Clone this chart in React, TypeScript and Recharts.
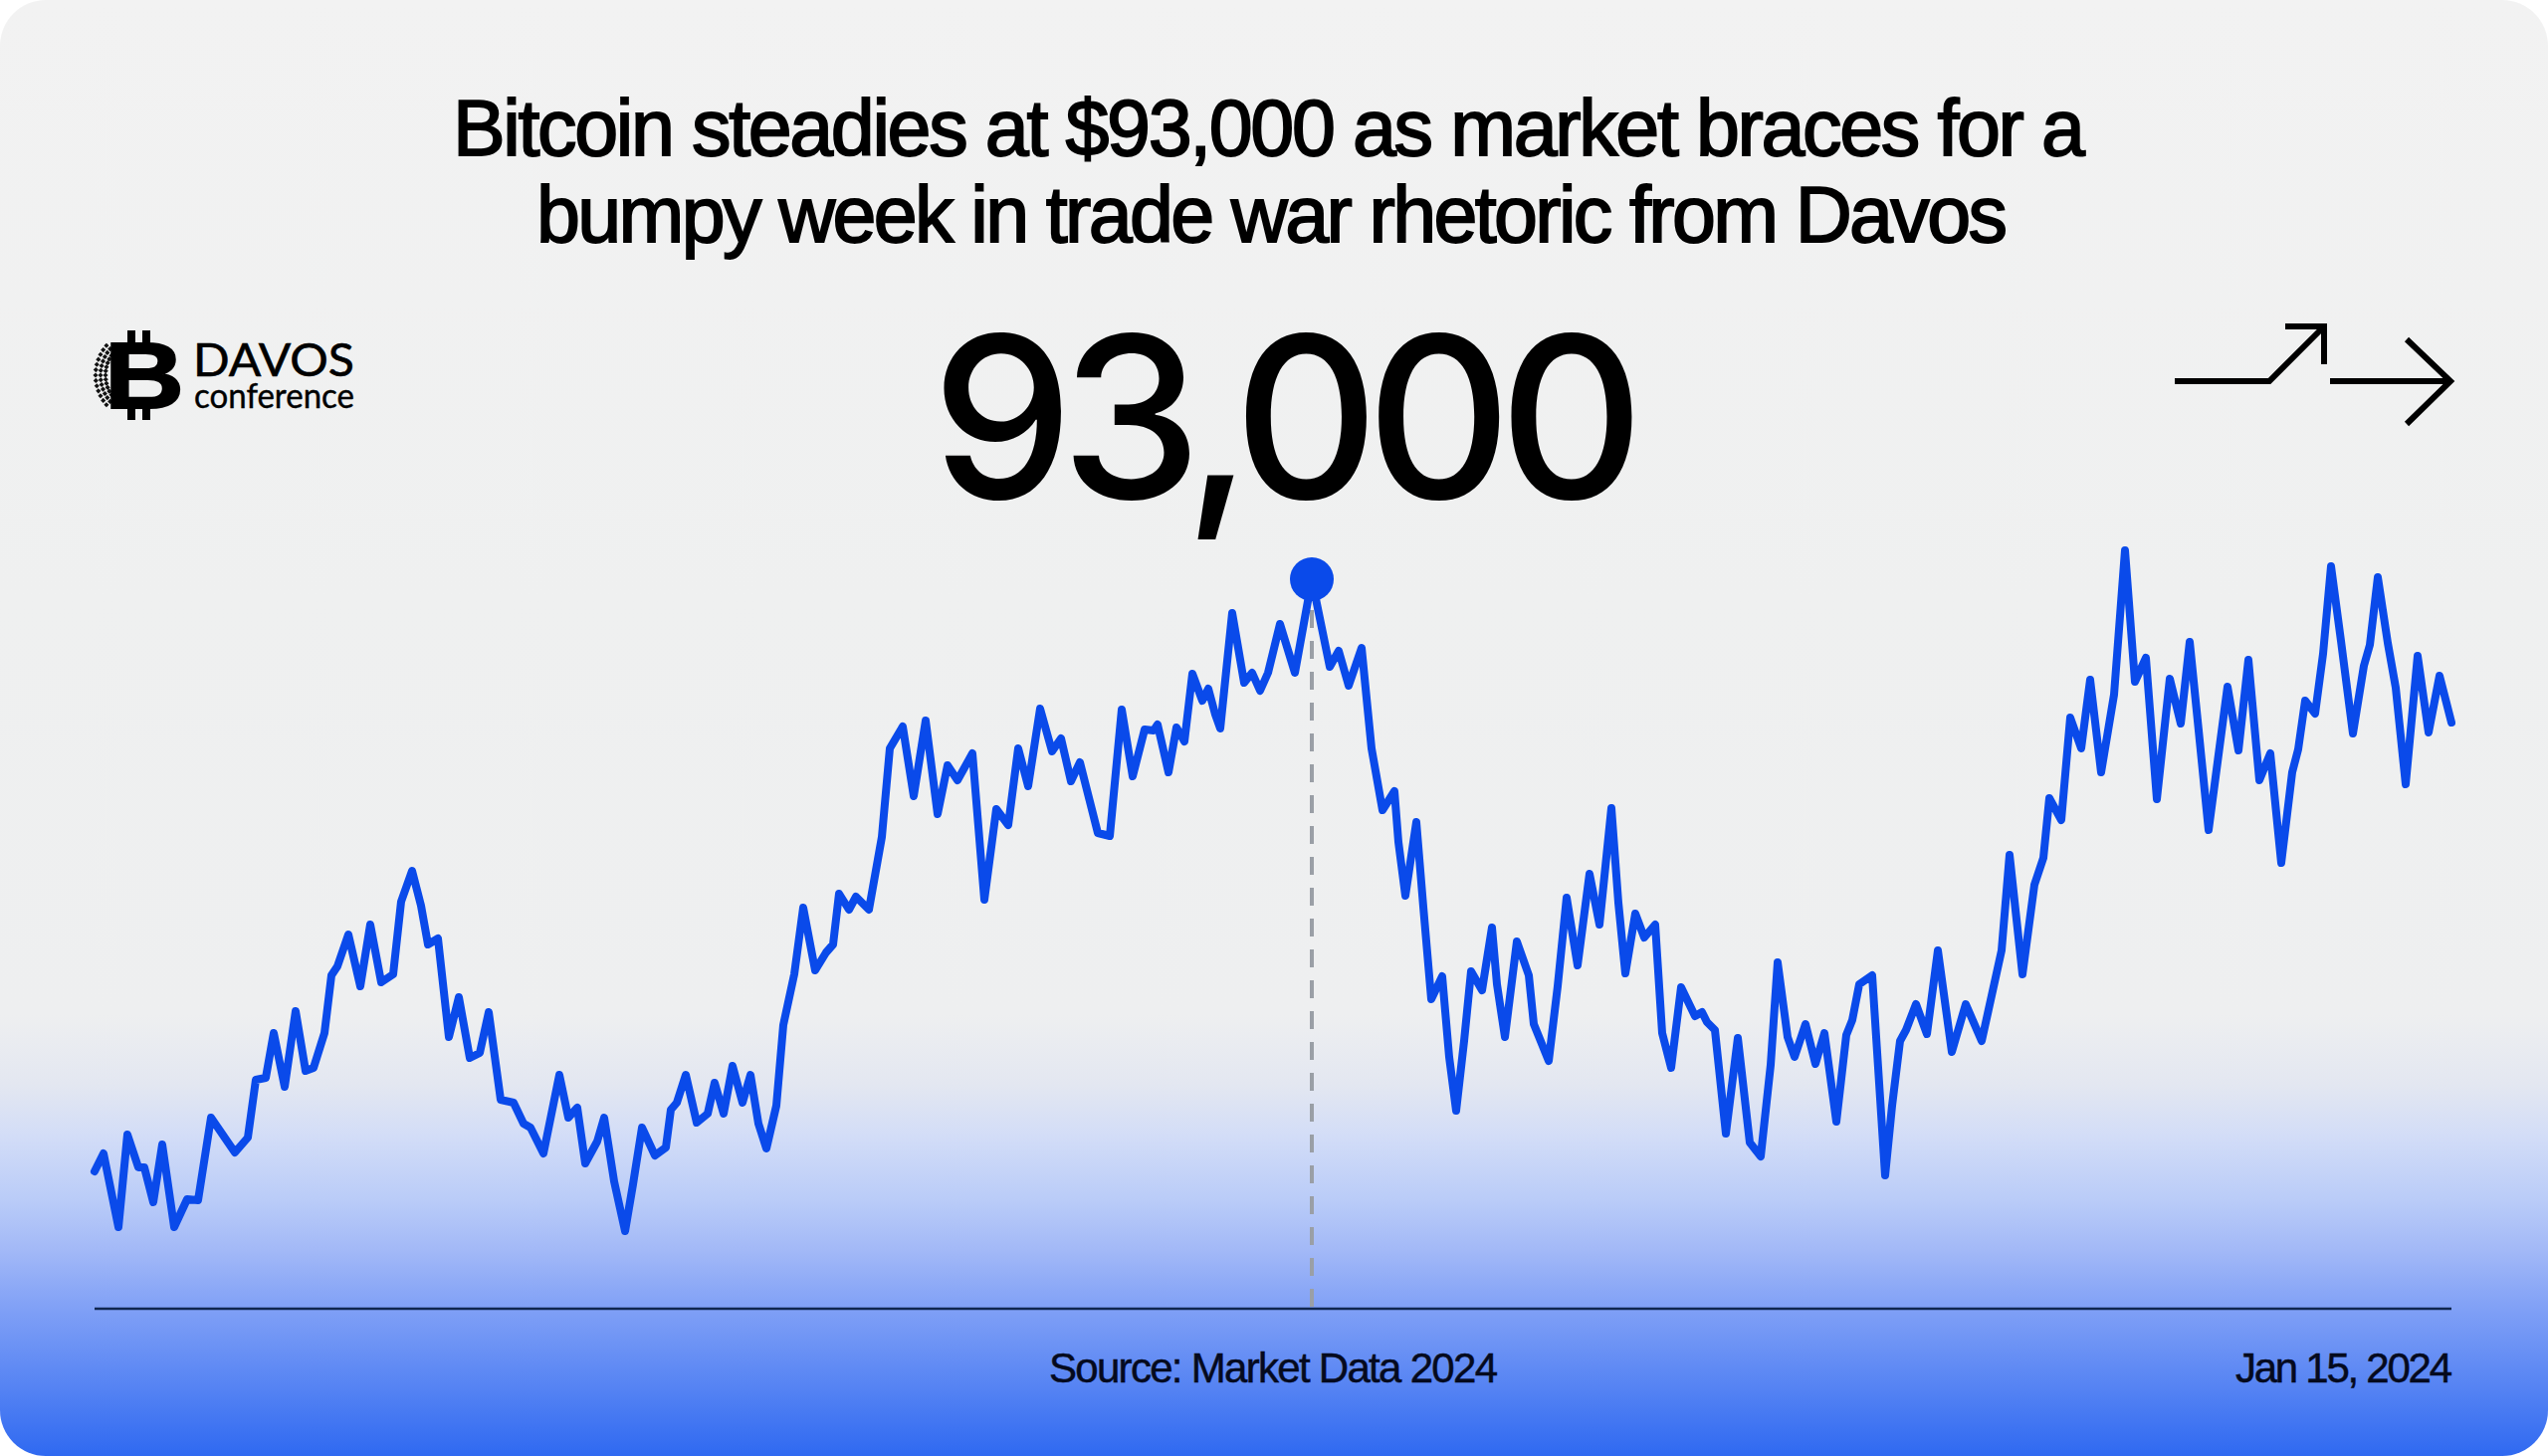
import React from "react";
import { LineChart, Line, XAxis, YAxis, ReferenceLine, ReferenceDot } from "recharts";

const titleLines = [
  "Bitcoin steadies at $93,000 as market braces for a",
  "bumpy week in trade war rhetoric from Davos",
];
const headline = "93,000";
const sourceLabel = "Source: Market Data 2024";
const dateLabel = "Jan 15, 2024";

const timeOffsets = [
  0, 9, 24, 33, 44, 50, 59, 68, 80, 93, 104, 117, 141, 154, 162, 172, 180, 191, 202, 212,
  220, 231, 238, 244, 255, 267, 277, 288, 300, 308, 319, 328, 335, 345, 356, 366, 377, 387, 396, 408,
  421, 431, 438, 451, 467, 476, 485, 493, 505, 512, 522, 533, 541, 550, 563, 574, 579, 585, 594, 605,
  616, 623, 632, 641, 651, 659, 667, 675, 685, 692, 703, 712, 724, 735, 742, 748, 758, 765, 778, 791,
  799, 812, 823, 835, 847, 857, 867, 882, 894, 906, 918, 928, 938, 950, 962, 971, 981, 990, 1008, 1020,
  1032, 1043, 1055, 1064, 1068, 1079, 1087, 1095, 1103, 1113, 1119, 1126, 1131, 1143, 1155, 1163, 1171, 1179, 1191, 1206,
  1223, 1241, 1250, 1260, 1273, 1283, 1294, 1306, 1310, 1317, 1328, 1335, 1343, 1354, 1361, 1368, 1376, 1383, 1394, 1404,
  1409, 1417, 1429, 1441, 1446, 1461, 1470, 1479, 1490, 1502, 1512, 1524, 1531, 1538, 1548, 1557, 1568, 1575, 1584, 1594,
  1608, 1615, 1620, 1628, 1639, 1651, 1663, 1674, 1684, 1691, 1701, 1708, 1719, 1729, 1738, 1750, 1760, 1766, 1773, 1786,
  1799, 1806, 1814, 1820, 1830, 1841, 1852, 1866, 1880, 1896, 1916, 1924, 1937, 1949, 1958, 1964, 1976, 1985, 1996, 2005,
  2016, 2029, 2040, 2050, 2061, 2072, 2085, 2096, 2105, 2114, 2124, 2143, 2154, 2164, 2175, 2186, 2197, 2208, 2214, 2221,
  2231, 2239, 2247, 2257, 2269, 2280, 2286, 2294, 2304, 2312, 2322, 2334, 2345, 2356, 2368,
];

const prices = [
  87050, 87230, 86490, 87420, 87090, 87090, 86740, 87320, 86490, 86770, 86760, 87590, 87240, 87390, 87970, 87990, 88440, 87900, 88660, 88060,
  88090, 88440, 89020, 89110, 89430, 88910, 89530, 88950, 89030, 89760, 90070, 89720, 89330, 89390, 88400, 88800, 88190, 88240, 88650, 87770,
  87740, 87530, 87490, 87230, 88020, 87590, 87690, 87130, 87350, 87590, 86950, 86450, 86920, 87490, 87210, 87290, 87670, 87740, 88020, 87540,
  87630, 87940, 87630, 88110, 87740, 88020, 87530, 87280, 87710, 88520, 89030, 89700, 89070, 89250, 89330, 89840, 89680, 89810, 89680, 90410,
  91300, 91520, 90820, 91580, 90640, 91130, 90980, 91250, 89780, 90690, 90530, 91300, 90920, 91700, 91270, 91400, 90970, 91160, 90450, 90420,
  91690, 91020, 91490, 91480, 91540, 91060, 91510, 91370, 92050, 91780, 91900, 91640, 91500, 92660, 91960, 92060, 91880, 92060, 92550, 92060,
  93000, 92120, 92280, 91930, 92310, 91300, 90680, 90870, 90360, 89820, 90560, 89710, 88780, 89010, 88200, 87660, 88360, 89060, 88870, 89500,
  88930, 88400, 89360, 89020, 88530, 88160, 88910, 89800, 89120, 90040, 89530, 90700, 89750, 89040, 89640, 89400, 89530, 88440, 88090, 88900,
  88610, 88650, 88550, 88470, 87430, 88390, 87340, 87200, 88120, 89150, 88400, 88200, 88530, 88130, 88440, 87550, 88420, 88570, 88930, 89020,
  87010, 87710, 88360, 88470, 88730, 88430, 89270, 88250, 88730, 88360, 89270, 90230, 89030, 89930, 90200, 90800, 90580, 91610, 91300, 91990,
  91060, 91840, 93290, 91970, 92210, 90790, 92000, 91550, 92370, 91480, 90480, 91920, 91280, 92190, 90980, 91250, 90150, 91060, 91290, 91780,
  91650, 92250, 93130, 92380, 91450, 92130, 92340, 93020, 92360, 91910, 90940, 92230, 91460, 92030, 91560,
];

const peakTime = 1223;
const peakPrice = 93000;
const floorPrice = 85670;
const ceilingPrice = 93420;

const chartData = timeOffsets.map((t, i) => ({ t, price: prices[i] }));

const W = 2560;
const H = 1463;
const BLUE = "#0a4aea";
const SANS = "'Liberation Sans', Arial, sans-serif";
const INTER = "Inter, sans-serif";
const cardBackground =
  "linear-gradient(180deg, #f2f2f2 0px, #eff0f0 600px, #eeeff0 1020px, #e3e7f1 1090px, #d3ddf7 1140px, #baccf8 1205px, #a3b9f7 1255px, #7d9ef6 1320px, #5583f3 1395px, #2f69f1 1463px)";

function BitcoinLogo() {
  const specks: React.ReactNode[] = [];
  for (let row = 0; row < 13; row++) {
    const a = -0.72 + (row / 12) * 1.44;
    for (let col = 0; col < 3; col++) {
      const r = 34 + col * 5;
      const cx = 140 - r * Math.cos(a);
      const cy = 377 + (r + 1) * Math.sin(a);
      specks.push(
        <rect key={`${row}-${col}`} x={cx - 1.8} y={cy - 1.8} width={3.6} height={3.6} fill="#111" transform={`rotate(45 ${cx} ${cy})`} />,
      );
    }
  }
  return (
    <g>
      {specks}
      <rect x={128} y={332} width={8} height={18} fill="#000" />
      <rect x={143} y={332} width={8} height={18} fill="#000" />
      <rect x={128} y={404} width={8} height={18} fill="#000" />
      <rect x={143} y={404} width={8} height={18} fill="#000" />
      <text x={105} y={410} fontFamily={SANS} fontWeight={700} fontSize={94} fill="#000" stroke="#000" strokeWidth={2} textLength={80} lengthAdjust="spacingAndGlyphs">
        B
      </text>
      <text x={194} y={378} fontFamily="Lato, sans-serif" fontSize={46} fill="#000" stroke="#000" strokeWidth={0.6} textLength={162} lengthAdjust="spacingAndGlyphs">
        DAVOS
      </text>
      <text x={195} y={410} fontFamily="Lato, sans-serif" fontSize={34} fill="#000" stroke="#000" strokeWidth={0.4} textLength={161} lengthAdjust="spacingAndGlyphs">
        conference
      </text>
    </g>
  );
}

export default function App() {
  return (
    <div style={{ position: "absolute", left: 0, top: 0, width: W, height: H, background: "#ffffff", overflow: "hidden" }}>
      <div style={{ position: "absolute", inset: 0, borderRadius: 46, background: cardBackground }} />
      <div style={{ position: "absolute", left: 0, top: 0 }}>
        <LineChart width={W} height={H} data={chartData} margin={{ top: 540, right: 97, bottom: 147, left: 95 }}>
          <XAxis
            dataKey="t"
            type="number"
            domain={[0, 2368]}
            height={1}
            tick={false}
            tickLine={false}
            axisLine={{ stroke: "#10264f", strokeWidth: 2.5 }}
          />
          <YAxis type="number" domain={[floorPrice, ceilingPrice]} hide />
          <ReferenceLine
            segment={[
              { x: peakTime, y: peakPrice },
              { x: peakTime, y: floorPrice },
            ]}
            stroke="#9a9fa6"
            strokeWidth={4}
            strokeDasharray="18 13"
          />
          <Line
            dataKey="price"
            type="linear"
            stroke={BLUE}
            strokeWidth={8}
            strokeLinejoin="round"
            strokeLinecap="round"
            dot={false}
            isAnimationActive={false}
          />
          <ReferenceDot x={peakTime} y={peakPrice} r={22} fill={BLUE} stroke="none" />
        </LineChart>
      </div>
      <svg width={W} height={H} style={{ position: "absolute", left: 0, top: 0, pointerEvents: "none" }}>
        <text x={455} y={156} fontFamily={SANS} fontSize={79} fill="#000" stroke="#000" strokeWidth={1.8} textLength={1640} lengthAdjust="spacing">
          {titleLines[0]}
        </text>
        <text x={539} y={243} fontFamily={SANS} fontSize={79} fill="#000" stroke="#000" strokeWidth={1.8} textLength={1478} lengthAdjust="spacing">
          {titleLines[1]}
        </text>
        <text x={936} y={501} fontFamily={INTER} fontWeight={500} fontSize={226} fill="#000" textLength={716} lengthAdjust="spacing">
          {headline}
        </text>
        <text x={1054} y={1389} fontFamily={SANS} fontSize={42} fill="#050a1e" stroke="#050a1e" strokeWidth={0.5} textLength={451} lengthAdjust="spacing">
          {sourceLabel}
        </text>
        <text x={2246} y={1389} fontFamily={SANS} fontSize={42} fill="#050a1e" stroke="#050a1e" strokeWidth={0.5} textLength={218} lengthAdjust="spacing">
          {dateLabel}
        </text>
        <BitcoinLogo />
        <g fill="none" stroke="#000" strokeWidth={6}>
          <path d="M2185 383 H2280 L2335 328" />
          <path d="M2296 328 H2335 V366" />
          <path d="M2341 383 H2460" />
          <path d="M2418 341 L2462 383 L2418 426" />
        </g>
      </svg>
    </div>
  );
}
